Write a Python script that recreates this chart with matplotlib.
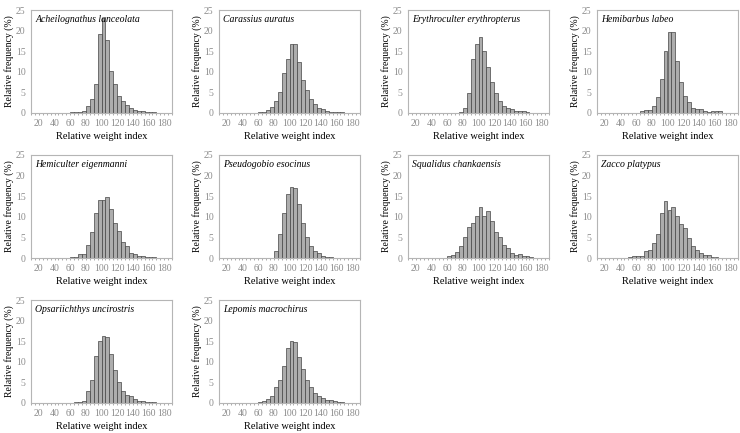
import numpy as np
import matplotlib
matplotlib.use('Agg')
import matplotlib.pyplot as plt

plt.rcParams['font.family'] = ['Liberation Serif', 'DejaVu Serif']

# bins of relative weight index (left edges, width 5)
bin_left = list(range(10, 190, 5))

species = ['Acheilognathus lanceolata', 'Carassius auratus', 'Erythroculter erythropterus',
           'Hemibarbus labeo', 'Hemiculter eigenmanni', 'Pseudogobio esocinus',
           'Squalidus chankaensis', 'Zacco platypus', 'Opsariichthys uncirostris',
           'Lepomis macrochirus']

# relative frequency (%) per bin
acheilognathus = [0, 0, 0, 0, 0, 0, 0, 0, 0, 0.1, 0.2, 0.2, 0.3, 0.6, 1.7, 3.4, 7.0, 19.2, 23.0, 17.6,
                  10.2, 7.0, 4.2, 3.0, 2.0, 1.2, 0.8, 0.5, 0.4, 0.3, 0.3, 0.2, 0.1, 0, 0, 0]
carassius = [0, 0, 0, 0, 0, 0, 0, 0, 0, 0.1, 0.3, 0.3, 0.7, 1.5, 2.8, 5.1, 9.6, 13.0, 16.8, 16.8,
             12.4, 8.0, 5.7, 3.3, 2.2, 1.3, 0.9, 0.5, 0.2, 0.2, 0.2, 0.2, 0.1, 0.1, 0, 0]
erythroculter = [0, 0, 0, 0, 0, 0, 0, 0, 0, 0, 0, 0, 0.1, 0.3, 1.2, 4.9, 13.1, 16.8, 18.5, 15.0,
                 11.1, 7.6, 4.9, 2.9, 1.7, 1.3, 0.9, 0.6, 0.5, 0.4, 0.3, 0.1, 0, 0, 0, 0]
hemibarbus = [0, 0, 0, 0, 0, 0, 0, 0, 0, 0, 0.1, 0.4, 0.7, 0.8, 1.8, 4.0, 8.3, 15.0, 19.6, 19.7,
              12.6, 7.6, 4.2, 2.6, 1.1, 1.0, 0.9, 0.4, 0.3, 0.4, 0.4, 0.4, 0.1, 0, 0, 0]
hemiculter = [0, 0, 0, 0, 0, 0, 0, 0, 0.1, 0.1, 0.3, 0.3, 0.9, 1.0, 3.1, 6.4, 10.9, 14.0, 14.0, 14.7,
              12.0, 8.5, 6.5, 4.0, 3.0, 1.3, 0.9, 0.6, 0.4, 0.3, 0.2, 0.2, 0.1, 0, 0, 0]
pseudogobio = [0, 0, 0, 0, 0, 0, 0, 0, 0, 0, 0, 0, 0, 0.1, 1.6, 5.8, 10.9, 15.5, 17.3, 16.9,
               13.1, 8.5, 5.1, 2.9, 1.7, 1.1, 0.4, 0.2, 0.2, 0.1, 0, 0, 0, 0, 0, 0]
squalidus = [0, 0, 0, 0, 0, 0, 0, 0, 0, 0, 0.4, 0.7, 1.5, 3.0, 5.0, 7.5, 8.6, 10.2, 12.3, 10.3,
             11.5, 9.1, 6.4, 5.0, 3.1, 2.4, 1.3, 0.8, 1.0, 0.6, 0.4, 0.2, 0.1, 0, 0, 0]
zacco = [0, 0, 0.05, 0.05, 0, 0, 0, 0.1, 0.2, 0.4, 0.5, 0.6, 1.6, 2.0, 3.7, 5.8, 11.0, 13.9, 11.7, 12.3,
         10.2, 8.3, 7.3, 4.8, 3.0, 2.0, 1.3, 0.8, 0.7, 0.3, 0.2, 0.1, 0.1, 0.1, 0, 0]
opsariichthys = [0, 0, 0, 0, 0, 0, 0, 0, 0, 0, 0.1, 0.2, 0.3, 0.6, 2.9, 5.6, 11.3, 15.0, 16.2, 15.9,
                 11.8, 8.1, 5.0, 2.9, 1.9, 1.7, 1.0, 0.5, 0.4, 0.3, 0.2, 0.2, 0.1, 0, 0, 0]
lepomis = [0, 0, 0, 0, 0, 0, 0, 0, 0, 0.1, 0.3, 0.5, 0.9, 1.8, 3.9, 5.7, 9.0, 13.4, 15.0, 14.8,
           11.1, 8.2, 5.5, 3.9, 2.5, 1.8, 1.1, 0.8, 0.7, 0.5, 0.3, 0.3, 0.1, 0, 0, 0]

freqs = [acheilognathus, carassius, erythroculter, hemibarbus, hemiculter, pseudogobio,
         squalidus, zacco, opsariichthys, lepomis]

W, H = 740, 433
fig = plt.figure(figsize=(W / 100, H / 100), dpi=100)

lefts = [31, 219, 408, 597]
tops = [10, 155, 300]
aw, ah = 141, 103
gray = '#8c8c8c'

for i, (name, f) in enumerate(zip(species, freqs)):
    r, c = divmod(i, 4)
    ax = fig.add_axes([lefts[c] / W, 1 - (tops[r] + ah) / H, aw / W, ah / H])
    ax.bar(bin_left, f, width=5, align='edge', color='#adadad', edgecolor='#444444', linewidth=0.5)
    ax.set_xlim(10, 190)
    ax.set_ylim(0, 25)
    ax.set_xticks(range(20, 181, 20))
    ax.set_xticks(range(10, 191, 5), minor=True)
    ax.set_yticks(range(0, 26, 5))
    ax.tick_params(axis='both', labelsize=7, colors=gray, length=1.5, width=0.5, pad=3)
    ax.tick_params(axis='x', which='minor', length=1.5, width=0.5, colors=gray)
    ax.tick_params(axis='y', length=0, pad=4)
    for s in ax.spines.values():
        s.set_color('#b5b5b5')
        s.set_linewidth(0.8)
    ax.set_xlabel('Relative weight index', fontsize=7.5, labelpad=3)
    ax.set_ylabel('Relative frequency (%)', fontsize=7, labelpad=1)
    ax.text(0.03, 0.95, name, transform=ax.transAxes, fontsize=7, style='italic', va='top', ha='left')

fig.savefig('out.png', dpi=100)
